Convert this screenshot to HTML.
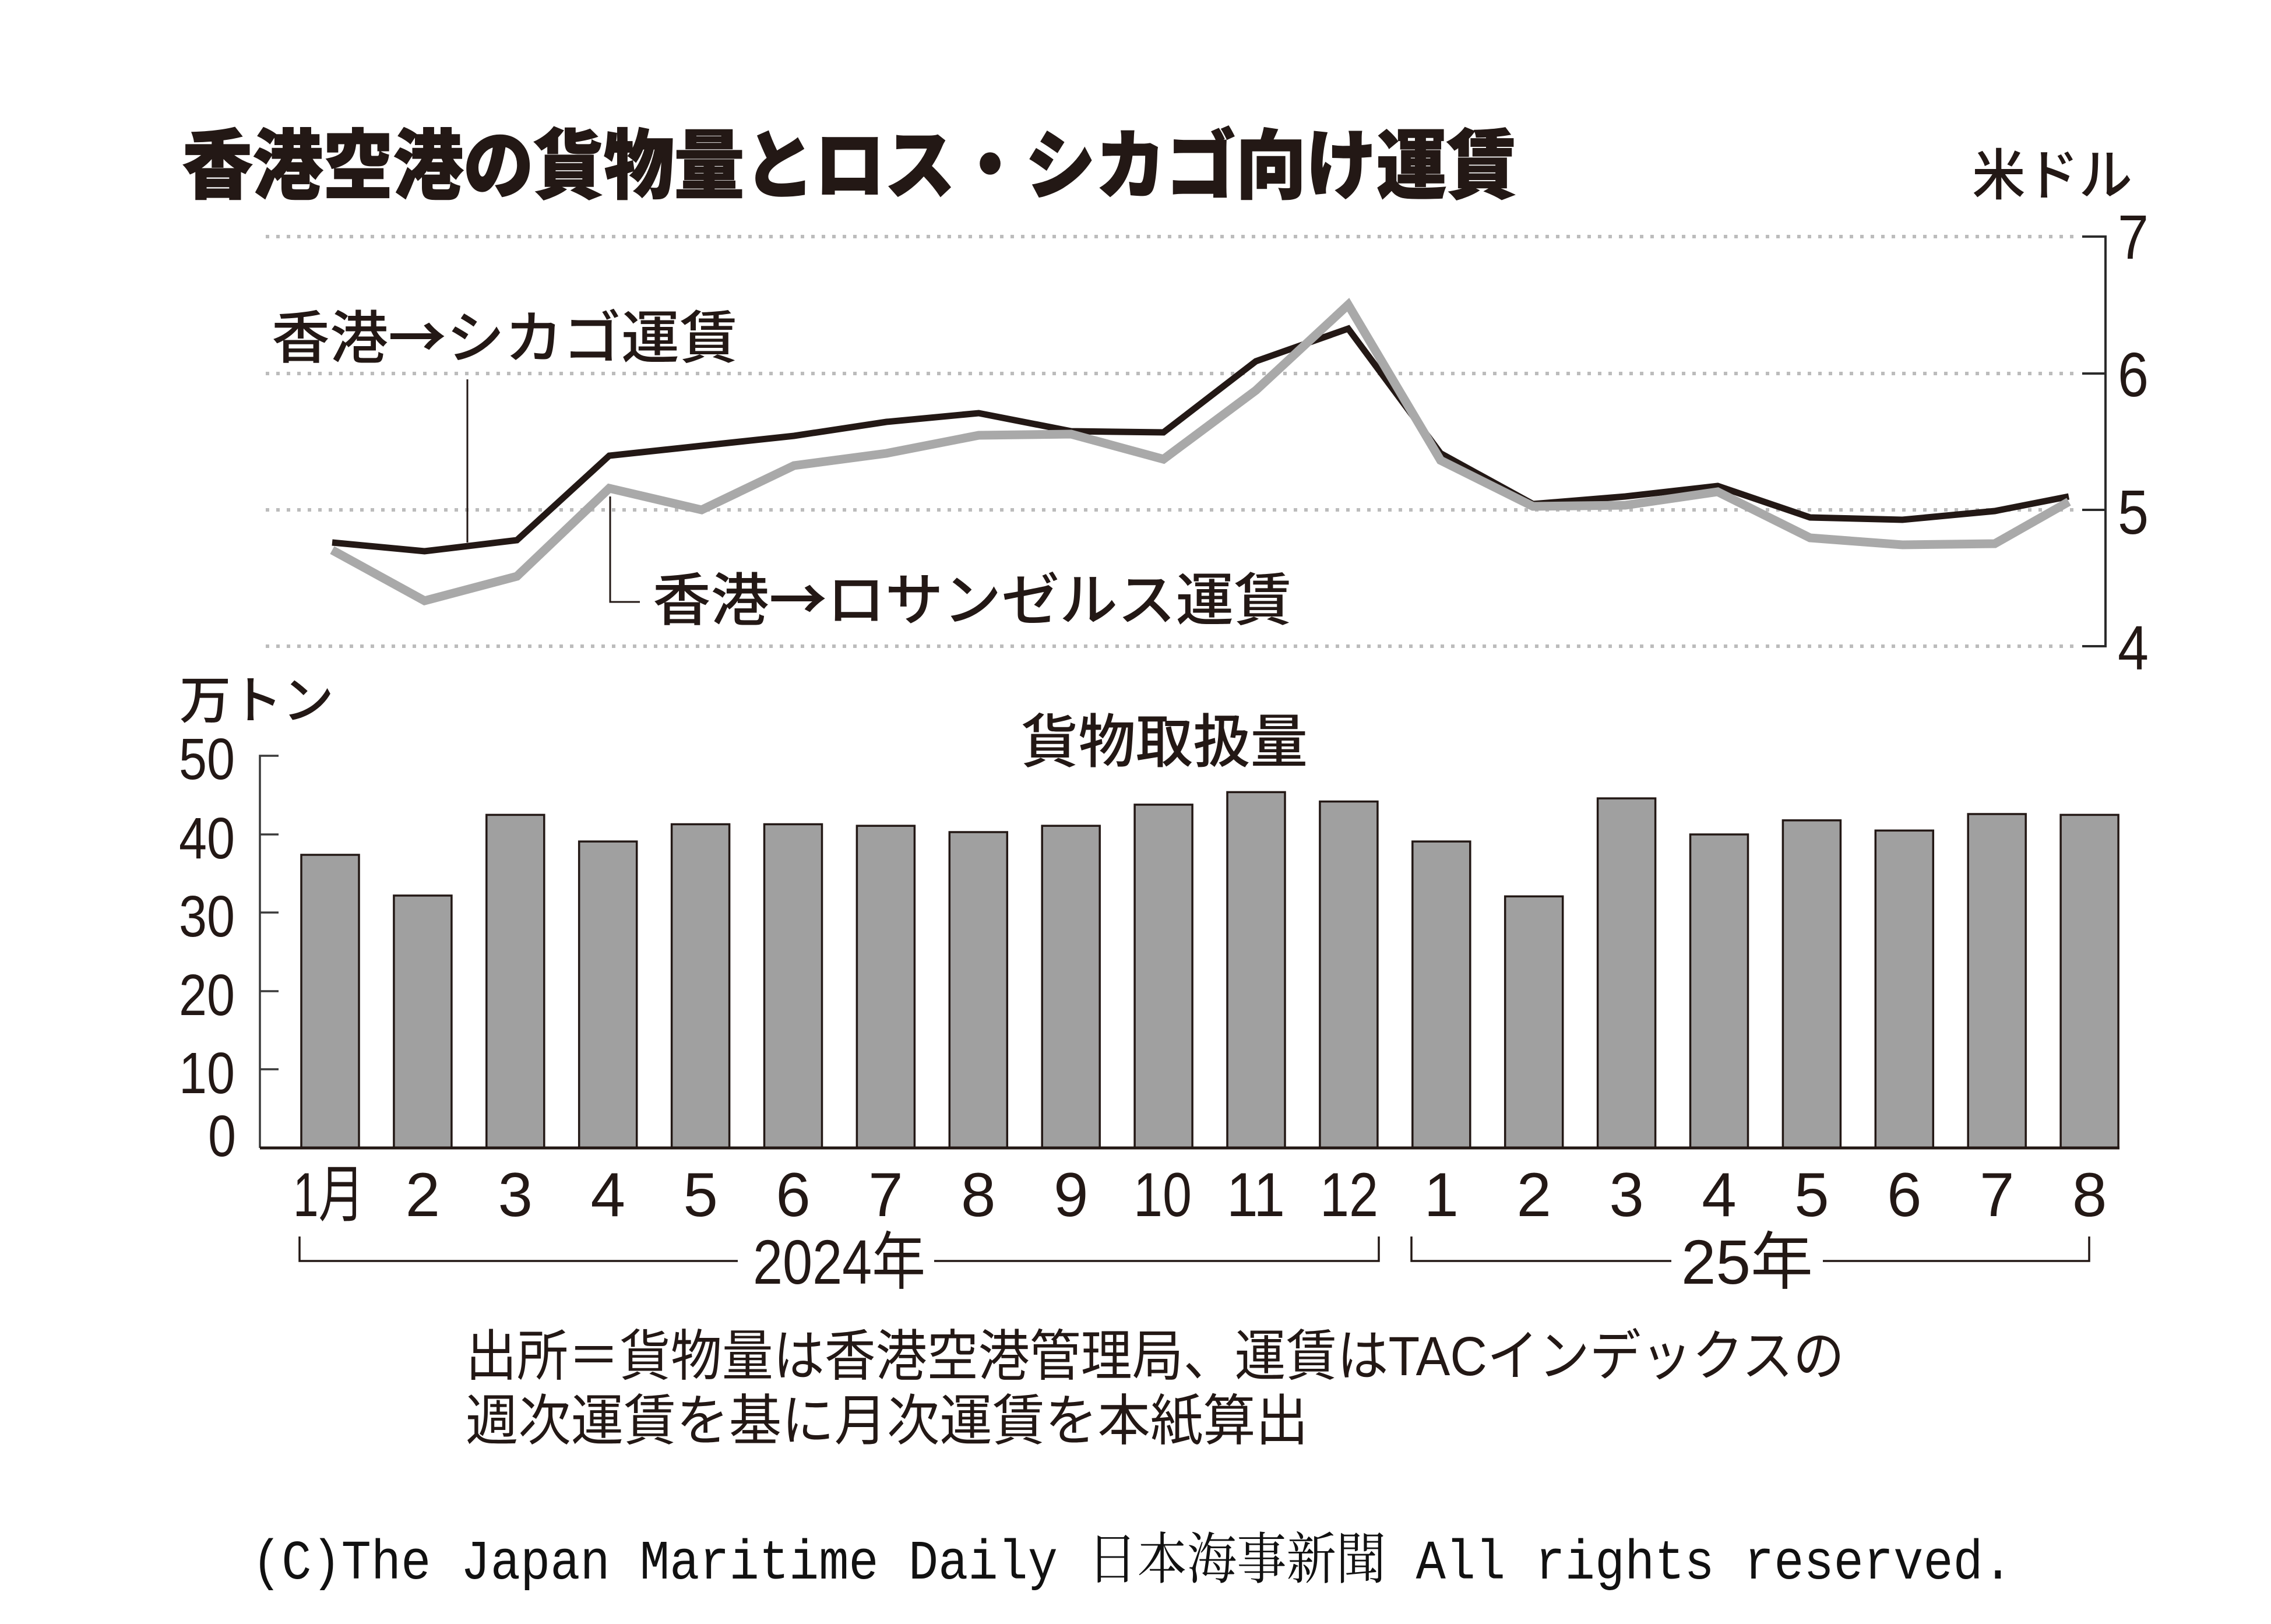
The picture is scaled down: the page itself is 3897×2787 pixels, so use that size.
<!DOCTYPE html>
<html>
<head>
<meta charset="utf-8">
<style>
html,body{margin:0;padding:0;background:#ffffff;}
svg{display:block;}
text{white-space:pre;}
</style>
</head>
<body>
<svg width="3897" height="2787" viewBox="0 0 3897 2787" xmlns="http://www.w3.org/2000/svg">
<rect x="0" y="0" width="3897" height="2787" fill="#ffffff"/>

<!-- Title -->
<text x="313" y="330" font-family="'Liberation Sans','Noto Sans CJK JP',sans-serif" font-size="130" font-weight="900" fill="#231815" stroke="#231815" stroke-width="2" textLength="2290" lengthAdjust="spacingAndGlyphs">香港空港の貨物量とロス・シカゴ向け運賃</text>

<!-- Unit right -->
<text x="3384" y="334" font-family="'Liberation Sans','Noto Sans CJK JP',sans-serif" font-size="95" font-weight="500" fill="#231815" textLength="275" lengthAdjust="spacingAndGlyphs">米ドル</text>

<!-- Grid dotted lines -->
<g stroke="#bcbcbc" stroke-width="6" stroke-dasharray="6 12">
<line x1="456" y1="406" x2="3563" y2="406"/>
<line x1="456" y1="641" x2="3563" y2="641"/>
<line x1="456" y1="875" x2="3563" y2="875"/>
<line x1="456" y1="1109" x2="3563" y2="1109"/>
</g>

<!-- Right axis -->
<path d="M3573,406 H3613 V1109 H3573 M3573,641 H3613 M3573,875 H3613" fill="none" stroke="#2b2b2b" stroke-width="4"/>
<g font-family="'Liberation Sans',sans-serif" font-size="108" fill="#231815">
<text x="3634" y="444" textLength="53" lengthAdjust="spacingAndGlyphs">7</text>
<text x="3634" y="680" textLength="53" lengthAdjust="spacingAndGlyphs">6</text>
<text x="3634" y="916" textLength="53" lengthAdjust="spacingAndGlyphs">5</text>
<text x="3634" y="1149" textLength="53" lengthAdjust="spacingAndGlyphs">4</text>
</g>

<!-- Series labels -->
<text x="466" y="614" font-family="'Noto Sans CJK JP','Liberation Sans',sans-serif" font-size="98" font-weight="500" fill="#231815" textLength="800" lengthAdjust="spacingAndGlyphs">香港<tspan font-family="'Noto Sans CJK JP',sans-serif" font-weight="700">→</tspan>シカゴ運賃</text>
<text x="1120" y="1064" font-family="'Noto Sans CJK JP','Liberation Sans',sans-serif" font-size="98" font-weight="500" fill="#231815" textLength="1097" lengthAdjust="spacingAndGlyphs">香港<tspan font-family="'Noto Sans CJK JP',sans-serif" font-weight="700">→</tspan>ロサンゼルス運賃</text>

<!-- Leader lines -->
<path d="M802,651 V931" fill="none" stroke="#231815" stroke-width="3"/>
<path d="M1047,852 V1033 H1098" fill="none" stroke="#231815" stroke-width="3"/>

<!-- Chicago (black) -->
<polyline fill="none" stroke="#231815" stroke-width="11" stroke-linejoin="miter" stroke-miterlimit="10"
points="570,931 728.5,946 887,927 1045.5,782 1204,765 1362.5,748 1521,724 1679.5,709 1838,740 1996.5,742 2155,620 2313.5,564 2472,778 2630.5,865 2789,852 2947.5,834 3106,888 3264.5,892 3423,877 3550,852"/>
<!-- LA (gray) -->
<polyline fill="none" stroke="#a9a9a9" stroke-width="15" stroke-linejoin="miter" stroke-miterlimit="10"
points="570,944 728.5,1031 887,989 1045.5,838 1204,875 1362.5,799 1521,778 1679.5,747 1838,745 1996.5,788 2155,670 2313.5,523 2472,790 2630.5,869 2789,867 2947.5,844 3106,923 3264.5,935 3423,933 3550,861"/>

<!-- Bar chart labels -->
<text x="308" y="1233" font-family="'Liberation Sans','Noto Sans CJK JP',sans-serif" font-size="88" font-weight="500" fill="#231815" textLength="265" lengthAdjust="spacingAndGlyphs">万トン</text>
<text x="1752" y="1308" font-family="'Liberation Sans','Noto Sans CJK JP',sans-serif" font-size="100" font-weight="500" fill="#231815" textLength="492" lengthAdjust="spacingAndGlyphs">貨物取扱量</text>

<!-- Left axis labels -->
<g font-family="'Liberation Sans',sans-serif" font-size="100" fill="#231815" text-anchor="end">
<text x="403" y="1337" textLength="96" lengthAdjust="spacingAndGlyphs">50</text>
<text x="403" y="1473" textLength="96" lengthAdjust="spacingAndGlyphs">40</text>
<text x="403" y="1607" textLength="96" lengthAdjust="spacingAndGlyphs">30</text>
<text x="403" y="1742" textLength="96" lengthAdjust="spacingAndGlyphs">20</text>
<text x="403" y="1876" textLength="96" lengthAdjust="spacingAndGlyphs">10</text>
<text x="405" y="1984" textLength="48" lengthAdjust="spacingAndGlyphs">0</text>
</g>

<!-- Bars -->
<g fill="#a0a0a0" stroke="#231815" stroke-width="3.5">
<rect x="517" y="1467" width="99" height="503"/>
<rect x="675.9" y="1536.9" width="99" height="433.1"/>
<rect x="834.8" y="1398.4" width="99" height="571.6"/>
<rect x="993.7" y="1444.1" width="99" height="525.9"/>
<rect x="1152.6" y="1414.5" width="99" height="555.5"/>
<rect x="1311.5" y="1414.5" width="99" height="555.5"/>
<rect x="1470.4" y="1417.2" width="99" height="552.8"/>
<rect x="1629.3" y="1428" width="99" height="542"/>
<rect x="1788.2" y="1417.2" width="99" height="552.8"/>
<rect x="1947.1" y="1380.9" width="99" height="589.1"/>
<rect x="2106" y="1359.4" width="99" height="610.6"/>
<rect x="2264.9" y="1375.5" width="99" height="594.5"/>
<rect x="2423.8" y="1444.1" width="99" height="525.9"/>
<rect x="2582.7" y="1538.3" width="99" height="431.7"/>
<rect x="2741.6" y="1370.1" width="99" height="599.9"/>
<rect x="2900.5" y="1432" width="99" height="538"/>
<rect x="3059.4" y="1407.8" width="99" height="562.2"/>
<rect x="3218.3" y="1425.3" width="99" height="544.7"/>
<rect x="3377.2" y="1397" width="99" height="573"/>
<rect x="3536.1" y="1398.4" width="99" height="571.6"/>
</g>

<!-- Left axis and baseline -->
<path d="M478,1297 H446 V1970 M446,1432 H478 M446,1566 H478 M446,1701 H478 M446,1835 H478" fill="none" stroke="#3a3a3a" stroke-width="3.5"/>
<line x1="446" y1="1970" x2="3637" y2="1970" stroke="#231815" stroke-width="5"/>

<!-- Month labels -->
<g font-family="'Liberation Sans','Noto Sans CJK JP',sans-serif" font-size="107" fill="#231815" text-anchor="middle">
<text x="564" y="2087" textLength="122" lengthAdjust="spacingAndGlyphs">1月</text>
<text x="725.4" y="2087">2</text>
<text x="884.3" y="2087">3</text>
<text x="1043.2" y="2087">4</text>
<text x="1202.1" y="2087">5</text>
<text x="1361" y="2087">6</text>
<text x="1519.9" y="2087">7</text>
<text x="1678.8" y="2087">8</text>
<text x="1837.7" y="2087">9</text>
<text x="1995" y="2087" textLength="100" lengthAdjust="spacingAndGlyphs">10</text>
<text x="2155" y="2087" textLength="100" lengthAdjust="spacingAndGlyphs">11</text>
<text x="2315" y="2087" textLength="100" lengthAdjust="spacingAndGlyphs">12</text>
<text x="2473.3" y="2087">1</text>
<text x="2632.2" y="2087">2</text>
<text x="2791.1" y="2087">3</text>
<text x="2950" y="2087">4</text>
<text x="3108.9" y="2087">5</text>
<text x="3267.8" y="2087">6</text>
<text x="3426.7" y="2087">7</text>
<text x="3585.6" y="2087">8</text>
</g>

<!-- Year brackets -->
<path d="M514,2122 V2164 H1266 M1603,2164 H2366 V2122 M2422,2122 V2164 H2868 M3128,2164 H3585 V2122" fill="none" stroke="#231815" stroke-width="3.5"/>
<g font-family="'Liberation Sans','Noto Sans CJK JP',sans-serif" font-size="108" fill="#231815" text-anchor="middle">
<text x="1440" y="2203" textLength="296" lengthAdjust="spacingAndGlyphs">2024年</text>
<text x="2998" y="2203" textLength="226" lengthAdjust="spacingAndGlyphs">25年</text>
</g>

<!-- Source -->
<g font-family="'Liberation Sans','Noto Sans CJK JP',sans-serif" font-size="95" fill="#231815">
<text x="799" y="2360" textLength="2366" lengthAdjust="spacingAndGlyphs">出所＝貨物量は香港空港管理局、運賃はTACインデックスの</text>
<text x="799" y="2471" textLength="1446" lengthAdjust="spacingAndGlyphs">週次運賃を基に月次運賃を本紙算出</text>
</g>

<!-- Copyright -->
<text x="432" y="2709" font-family="'Liberation Mono','Noto Serif CJK SC',monospace" font-size="96" fill="#111111" textLength="3022" lengthAdjust="spacingAndGlyphs">(C)The Japan Maritime Daily 日本海事新聞 All rights reserved.</text>
</svg>
</body>
</html>
